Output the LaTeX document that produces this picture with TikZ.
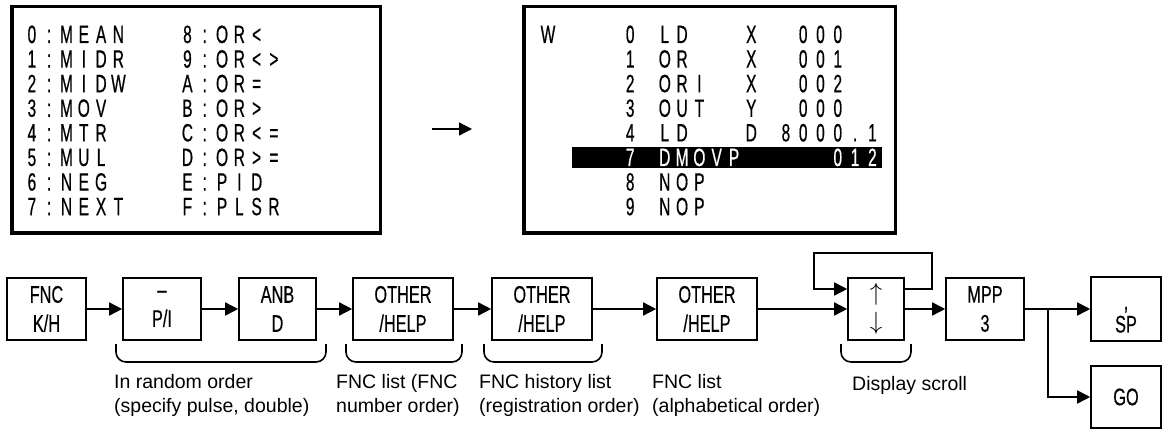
\documentclass[tikz,border=0pt]{standalone}
\usepackage{fontspec}
\setmainfont{Liberation Sans}
\newfontfamily\lcdfont[FakeStretch=0.62,FakeBold=0.5]{Liberation Sans}
\newfontfamily\keyfont[FakeStretch=0.68,FakeBold=0.4]{Liberation Sans}
\usetikzlibrary{arrows.meta,calc}
\newlength\lcdpitch \setlength\lcdpitch{17.3pt}
\newcommand\lcd[1]{\lcdloop#1\relax}
\def\lcdloop#1{\ifx#1\relax\else\makebox[\lcdpitch][c]{#1}\expandafter\lcdloop\fi}
\tikzset{
  scrn/.style={draw, line width=3.5pt, inner sep=0pt},
  row/.style={anchor=base west, inner sep=0pt, font=\lcdfont\fontsize{25}{25}\selectfont},
  key/.style={draw, line width=1.6pt, minimum height=62pt, align=center, inner sep=0pt,
              font=\keyfont\fontsize{24}{29}\selectfont},
  lbl/.style={anchor=north west, inner sep=0pt, align=left, font=\fontsize{19.5}{24}\selectfont},
  conn/.style={line width=1.6pt, -{Triangle[length=13pt,width=13pt]}},
  brace/.style={line width=1.6pt, rounded corners=10pt},
}
\begin{document}
\begin{tikzpicture}[x=1pt,y=-1pt]
\useasboundingbox (0,0) rectangle (1162,430);
% screens
\node[scrn, minimum width=368.5pt, minimum height=226.5pt] (scrA) at (196,120) {};
\node[scrn, minimum width=371.5pt, minimum height=226.5pt] (scrB) at (709.5,120) {};
% screen 1 text
\node[row] (a0) at (23.05,43) {\lcd{0:MEAN}};
\node[row] (a1) at (23.05,67.6) {\lcd{1:MIDR}};
\node[row] (a2) at (23.05,92.2) {\lcd{2:MIDW}};
\node[row] (a3) at (23.05,116.8) {\lcd{3:MOV}};
\node[row] (a4) at (23.05,141.4) {\lcd{4:MTR}};
\node[row] (a5) at (23.05,166.0) {\lcd{5:MUL}};
\node[row] (a6) at (23.05,190.6) {\lcd{6:NEG}};
\node[row] (a7) at (23.05,215.2) {\lcd{7:NEXT}};
\node[row] (b0) at (178.6,43) {\lcd{8:OR<}};
\node[row] (b1) at (178.6,67.6) {\lcd{9:OR<>}};
\node[row] (b2) at (178.6,92.2) {\lcd{A:OR=}};
\node[row] (b3) at (178.6,116.8) {\lcd{B:OR>}};
\node[row] (b4) at (178.6,141.4) {\lcd{C:OR<=}};
\node[row] (b5) at (178.6,166.0) {\lcd{D:OR>=}};
\node[row] (b6) at (178.6,190.6) {\lcd{E:PID}};
\node[row] (b7) at (178.6,215.2) {\lcd{F:PLSR}};
% screen 2 text
\fill (572,147) rectangle (882,168);
\node[row, anchor=base] (w) at (548,43) {W};
\node[row] (c0) at (621.35,43) {\lcd{0~LD~~~X~~000}};
\node[row] (c1) at (621.35,67.6) {\lcd{1~OR~~~X~~001}};
\node[row] (c2) at (621.35,92.2) {\lcd{2~ORI~~X~~002}};
\node[row] (c3) at (621.35,116.8) {\lcd{3~OUT~~Y~~000}};
\node[row] (c4) at (621.35,141.4) {\lcd{4~LD~~~D~8000.1}};
\node[row, text=white] (c5) at (621.35,166.0) {\lcd{7~DMOVP~~~~~012}};
\node[row] (c6) at (621.35,190.6) {\lcd{8~NOP}};
\node[row] (c7) at (621.35,215.2) {\lcd{9~NOP}};
% arrow between screens
\coordinate (ma) at (432,129);
\coordinate (mb) at (472,129);
\draw[line width=1.3pt, -{Triangle[length=13pt,width=13pt]}] (ma) -- (mb);
% keys
\node[key, minimum width=79pt] (fnc) at (46.5,309) {FNC\\K/H};
\node[key, minimum width=78pt] (pi) at (162,309) {–\\P/I};
\node[key, minimum width=77pt] (anb) at (277.5,309) {ANB\\D};
\node[key, minimum width=100pt] (oh1) at (403,309) {OTHER\\/HELP};
\node[key, minimum width=100pt] (oh2) at (542,309) {OTHER\\/HELP};
\node[key, minimum width=100pt] (oh3) at (707,309) {OTHER\\/HELP};
\node[key, minimum width=56pt] (scr) at (876,309) {$\uparrow$\\$\downarrow$};
\node[key, minimum width=78pt] (mpp) at (985,309) {MPP\\3};
\node[key, minimum width=70pt, minimum height=64pt, text height=47pt, text depth=0pt] (sp) at (1126,309) {S\makebox[0pt]{\raisebox{23pt}{,}}P};
\node[key, minimum width=70pt] (go) at (1126,397) {GO};
% connectors
\draw[conn] (fnc) -- (pi);
\draw[conn] (pi) -- (anb);
\draw[conn] (anb) -- (oh1);
\draw[conn] (oh1) -- (oh2);
\draw[conn] (oh2) -- (oh3);
\draw[conn] (oh3) -- (scr);
\draw[conn] (scr) -- (mpp);
\draw[conn] ($(scr.east)+(0,-20)$) -| ++(27,-36) -| ($(scr.west)+(-33,-20)$) -- ($(scr.west)+(0,-20)$);
\coordinate (jn) at (1048,309);
\draw[line width=1.6pt] (mpp) -- (jn);
\draw[conn] (jn) -- (sp);
\draw[conn] (jn) |- (go);
% braces
\draw[brace] (116,344) -- (116,362) -- (326,362) -- (326,344);
\draw[brace] (346,344) -- (346,362) -- (462,362) -- (462,344);
\draw[brace] (484,344) -- (484,362) -- (602,362) -- (602,344);
\draw[brace] (841,344) -- (841,362) -- (911,362) -- (911,344);
% labels
\node[lbl] (l1) at (114,374) {In random order\\(specify pulse, double)};
\node[lbl] (l2) at (336,374) {FNC list (FNC\\number order)};
\node[lbl] (l3) at (479,374) {FNC history list\\(registration order)};
\node[lbl] (l4) at (652,374) {FNC list\\(alphabetical order)};
\node[lbl] (l5) at (852,376) {Display scroll};
\end{tikzpicture}
\end{document}
